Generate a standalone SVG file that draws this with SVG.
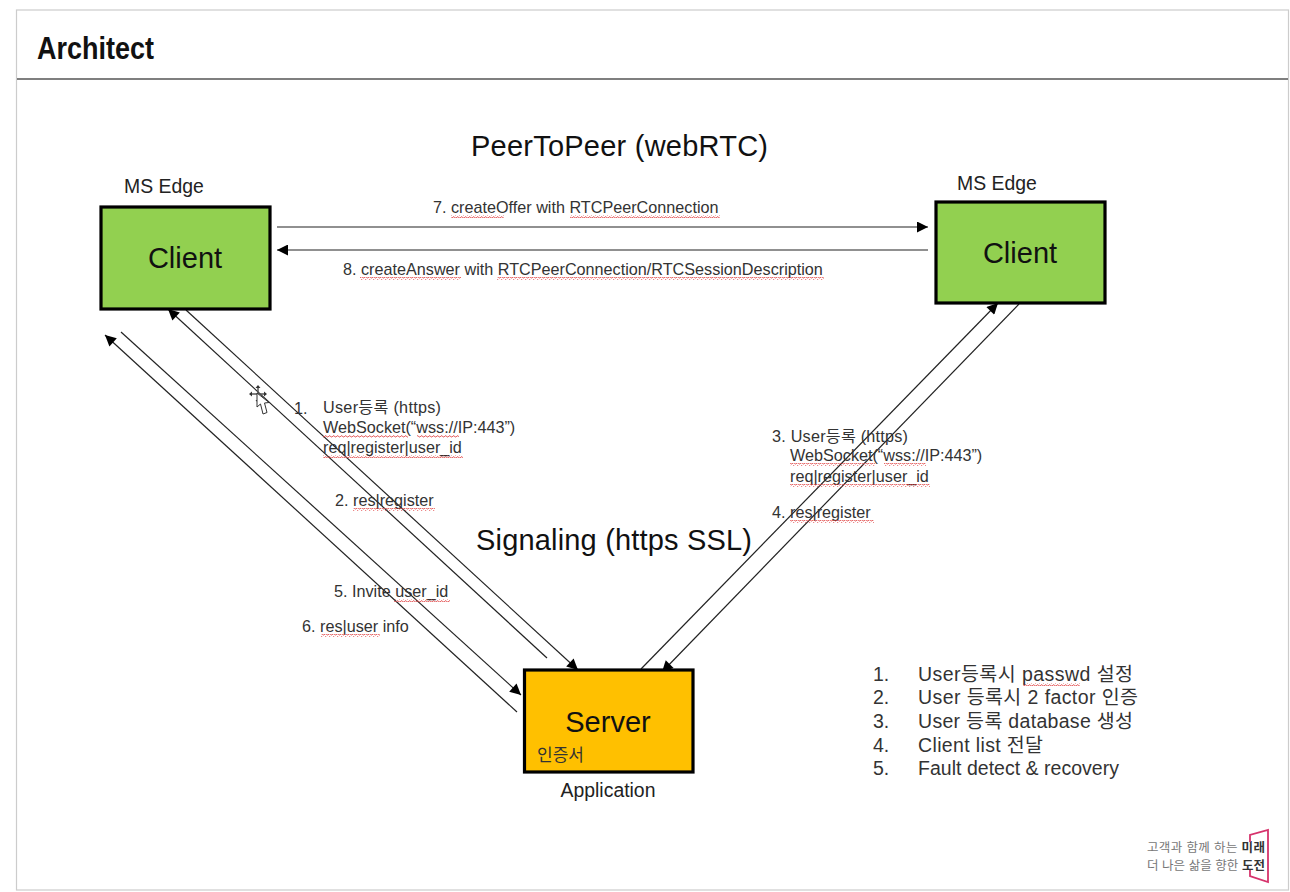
<svg xmlns="http://www.w3.org/2000/svg" width="1290" height="892" viewBox="0 0 1290 892">
<style>
text{font-family:"Liberation Sans","Noto Sans CJK KR",sans-serif;fill:#1a1a1a}
.box{stroke:#000;stroke-width:3.2}
.green{fill:#92d050}
.orange{fill:#ffc000}
.node{font-size:29px;fill:#111}
.lbl{font-size:16.2px;fill:#333}
.big{font-size:29px;fill:#111}
.mid{font-size:19.4px;fill:#222}
.list{font-size:19.5px;fill:#333}
.conn{stroke:#222;stroke-width:1.2;fill:none}
.arr{marker-end:url(#ah)}
</style>
<defs>
<marker id="ah" viewBox="0 0 10 10" refX="10" refY="5" markerWidth="13" markerHeight="11" markerUnits="userSpaceOnUse" orient="auto"><path d="M0 0L10 5L0 10z" fill="#000"/></marker>
<pattern id="sq" width="4" height="3" patternUnits="userSpaceOnUse"><path d="M0 2L1 1L2 .6L3 2L4 2" fill="none" stroke="#e04040" stroke-width=".8"/></pattern>
</defs>
<rect width="1290" height="892" fill="#fff"/>
<rect x="16.500" y="10" width="1272" height="880" fill="#fff" stroke="#ccc" stroke-width="1.200"/>
<line x1="17" y1="79" x2="1288" y2="79" stroke="#000" stroke-width="1.200"/>
<text x="37" y="59" font-size="32" font-weight="700" style="fill:#111" textLength="117" lengthAdjust="spacingAndGlyphs">Architect</text>
<text x="471" y="156" class="big" textLength="297">PeerToPeer (webRTC)</text>
<text x="476" y="550" class="big" textLength="276">Signaling (https SSL)</text>
<g id="connectors">
<line class="conn arr" x1="277" y1="227" x2="928" y2="227"/>
<line class="conn arr" x1="928" y1="250" x2="277" y2="250"/>
<line class="conn arr" x1="186" y1="310" x2="578" y2="670"/>
<line class="conn arr" x1="547" y1="658" x2="168" y2="309"/>
<line class="conn arr" x1="121" y1="332" x2="521" y2="695"/>
<line class="conn arr" x1="517" y1="712" x2="105" y2="335"/>
<line class="conn arr" x1="641" y1="669" x2="998" y2="303"/>
<line class="conn arr" x1="1019" y1="304" x2="662" y2="672"/>
</g>
<g id="client-left">
<rect class="box green" x="101" y="207" width="169" height="102"/>
<text class="node" x="185" y="268" text-anchor="middle">Client</text>
<text class="mid" x="124" y="193">MS Edge</text>
</g>
<g id="client-right">
<rect class="box green" x="936" y="202" width="169" height="101"/>
<text class="node" x="1020" y="263" text-anchor="middle">Client</text>
<text class="mid" x="957" y="190">MS Edge</text>
</g>
<g id="server">
<rect class="box orange" x="524.500" y="670" width="168.500" height="102"/>
<text class="node" x="608" y="732" text-anchor="middle">Server</text>
<text x="537" y="761" font-size="17" style="fill:#333">인증서</text>
<text class="mid" x="608" y="797" text-anchor="middle">Application</text>
</g>
<g id="labels">
<text class="lbl" x="433" y="213">7. createOffer with RTCPeerConnection</text>
<text class="lbl" x="343" y="275">8. createAnswer with RTCPeerConnection/RTCSessionDescription</text>
<text class="lbl" x="294" y="414">1.</text>
<text class="lbl" x="323" y="413" textLength="118">User등록 (https)</text>
<text class="lbl" x="323" y="433">WebSocket(“wss://IP:443”)</text>
<text class="lbl" x="323" y="453">req|register|user_id</text>
<text class="lbl" x="335" y="506">2. res|register</text>
<text class="lbl" x="334" y="597">5. Invite user_id</text>
<text class="lbl" x="302" y="632">6. res|user info</text>
<text class="lbl" x="772" y="442" textLength="136">3. User등록 (https)</text>
<text class="lbl" x="790" y="461">WebSocket(“wss://IP:443”)</text>
<text class="lbl" x="790" y="482">req|register|user_id</text>
<text class="lbl" x="772" y="518">4. res|register</text>
</g>
<g id="squiggles" fill="url(#sq)">
<rect x="451" y="215" width="53" height="3"/><rect x="570" y="215" width="150" height="3"/>
<rect x="360" y="277" width="101" height="3"/><rect x="497" y="277" width="327" height="3"/>
<rect x="323" y="435" width="85" height="3"/><rect x="417" y="435" width="42" height="3"/>
<rect x="323" y="455" width="140" height="3"/>
<rect x="353" y="508" width="82" height="3"/>
<rect x="394" y="599" width="56" height="3"/>
<rect x="321" y="634" width="59" height="3"/>
<rect x="790" y="463" width="85" height="3"/><rect x="884" y="463" width="42" height="3"/>
<rect x="790" y="484" width="140" height="3"/>
<rect x="790" y="520" width="84" height="3"/>
<rect x="1023" y="683" width="57" height="3"/>
</g>
<g id="notes">
<text class="list" x="873" y="681">1.</text><text class="list" x="918" y="681" textLength="215">User등록시 passwd 설정</text>
<text class="list" x="873" y="704">2.</text><text class="list" x="918" y="704" textLength="220">User 등록시 2 factor 인증</text>
<text class="list" x="873" y="728">3.</text><text class="list" x="918" y="728" textLength="215">User 등록 database 생성</text>
<text class="list" x="873" y="752">4.</text><text class="list" x="918" y="752" textLength="125">Client list 전달</text>
<text class="list" x="873" y="775">5.</text><text class="list" x="918" y="775" textLength="201">Fault detect &amp; recovery</text>
</g>
<g id="cursor">
<path d="M258 386V402M250 394H266" stroke="#555" stroke-width="1.500" fill="none"/>
<path d="M258 385l-2.500 3h5zM258 403l-2.500 -3h5zM249 394l3 -2.500v5zM267 394l-3 -2.500v5z" fill="#333"/>
<path d="M257 393L257 407L260.500 404L263 414L267 412.500L264.500 403L269 402.500Z" fill="#fff" stroke="#333" stroke-width="1"/>
</g>
<g id="logo">
<text x="1147" y="852" font-size="12.500" textLength="118" style="fill:#777">고객과 함께 하는 <tspan font-weight="700" style="fill:#333">미래</tspan></text>
<text x="1147" y="870" font-size="12.500" textLength="118" style="fill:#777">더 나은 삶을 향한 <tspan font-weight="700" style="fill:#333">도전</tspan></text>
<path d="M1250 842V835L1268 830V882L1250 876V870" fill="none" stroke="#d6336c" stroke-width="1.800"/>
</g>
</svg>
